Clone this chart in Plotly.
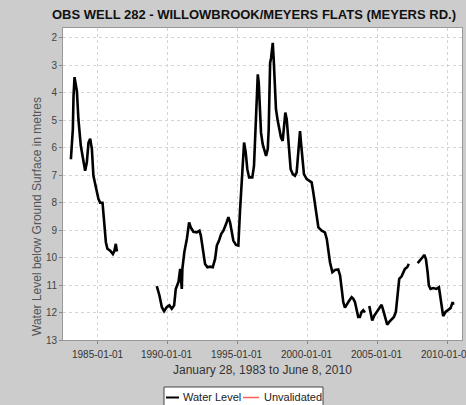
import pandas as pd
import plotly.graph_objects as go

# Observation record: decimal year and depth to water (m below ground).
# None entries mark gaps in the record.
years = [
    1983.10, 1983.24, 1983.29, 1983.36, 1983.53, 1983.64, 1983.81, 1984.00,
    1984.12, 1984.24, 1984.36, 1984.48, 1984.60, 1984.71, 1984.89, 1985.07,
    1985.19, 1985.36, 1985.48, 1985.60, 1985.71, 1985.91, 1986.10, 1986.21,
    1986.31, 1986.39,
    None,
    1989.24, 1989.43, 1989.60, 1989.76, 1989.96, 1990.14, 1990.31, 1990.48,
    1990.60, 1990.79, 1990.91, 1991.03, 1991.07, 1991.21, 1991.39, 1991.55,
    1991.67, 1991.86, 1992.10, 1992.29, 1992.39, 1992.53, 1992.69, 1992.86,
    1993.05, 1993.24, 1993.41, 1993.53, 1993.69, 1993.84, 1994.00, 1994.19,
    1994.36, 1994.48, 1994.60, 1994.71, 1994.90, 1995.07, 1995.19, 1995.31,
    1995.39, 1995.48, 1995.60, 1995.71, 1995.84, 1996.07, 1996.19, 1996.26,
    1996.34, 1996.39, 1996.46, 1996.53, 1996.62, 1996.69, 1996.81, 1996.93,
    1997.05, 1997.17, 1997.24, 1997.29, 1997.34, 1997.41, 1997.48, 1997.53,
    1997.60, 1997.67, 1997.76, 1997.89, 1998.00, 1998.12, 1998.24, 1998.34,
    1998.43, 1998.53, 1998.62, 1998.71, 1998.81, 1998.96, 1999.12, 1999.24,
    1999.36, 1999.48, 1999.55, 1999.67, 1999.76, 1999.96, 2000.14, 2000.31,
    2000.43, 2000.55, 2000.67, 2000.79, 2001.03, 2001.26, 2001.39, 2001.50,
    2001.62, 2001.79, 2001.98, 2002.21, 2002.34, 2002.46, 2002.57, 2002.69,
    2002.86, 2003.00, 2003.17, 2003.29, 2003.41, 2003.53, 2003.64, 2003.76,
    2003.88, 2004.00, 2004.12,
    None,
    2004.43, 2004.53, 2004.64, 2004.79, 2004.96, 2005.14, 2005.31, 2005.43,
    2005.55, 2005.71, 2005.86, 2006.03, 2006.19, 2006.33, 2006.43, 2006.50,
    2006.57, 2006.74, 2006.86, 2006.98, 2007.14, 2007.26,
    None,
    2007.89, 2008.06, 2008.24, 2008.36, 2008.48, 2008.60, 2008.69, 2008.81,
    2009.00, 2009.24, 2009.41, 2009.53, 2009.64, 2009.71, 2009.88, 2010.07,
    2010.24, 2010.39, 2010.44,
]
water_level = [
    6.42, 5.33, 4.12, 3.43, 3.94, 4.97, 5.93, 6.54,
    6.84, 6.54, 5.81, 5.67, 6.05, 7.02, 7.50, 7.87,
    8.00, 8.00, 8.72, 9.44, 9.68, 9.75, 9.87, 9.75,
    9.50, 9.78,
    None,
    11.04, 11.38, 11.80, 11.95, 11.80, 11.74, 11.86, 11.74,
    11.14, 10.89, 10.41, 11.14, 10.41, 9.80, 9.32, 8.72,
    8.90, 9.06, 9.08, 9.02, 9.20, 9.68, 10.23, 10.35,
    10.33, 10.35, 10.05, 9.56, 9.38, 9.14, 9.02, 8.78,
    8.53, 8.72, 9.08, 9.38, 9.54, 9.56, 8.29, 7.14,
    6.54, 5.81, 6.17, 6.78, 7.08, 7.08, 6.66, 5.69,
    4.72, 3.88, 3.33, 3.63, 4.48, 5.45, 5.87, 6.12,
    6.30, 6.05, 5.33, 4.12, 2.91, 2.73, 2.42, 2.18,
    2.79, 3.76, 4.60, 5.03, 5.33, 5.63, 5.75, 5.21,
    4.72, 4.97, 5.57, 6.30, 6.78, 6.96, 7.02, 6.90,
    6.17, 5.39, 5.81, 6.54, 6.96, 7.14, 7.20, 7.26,
    7.63, 8.11, 8.60, 8.90, 9.02, 9.08, 9.32, 9.68,
    10.17, 10.53, 10.45, 10.43, 10.65, 11.14, 11.62, 11.82,
    11.65, 11.56, 11.44, 11.50, 11.62, 11.86, 12.16, 12.16,
    11.98, 11.92, 12.00,
    None,
    11.76, 11.98, 12.29, 12.11, 11.98, 11.86, 11.72, 11.92,
    12.16, 12.44, 12.34, 12.25, 12.16, 11.98, 11.50, 11.02,
    10.77, 10.68, 10.53, 10.41, 10.35, 10.23,
    None,
    10.20, 10.11, 9.99, 9.90, 10.05, 10.53, 11.02, 11.14,
    11.11, 11.14, 11.08, 11.50, 11.98, 12.13, 11.98, 11.90,
    11.84, 11.62, 11.72,
]

x_ticks = ["1985-01-01", "1990-01-01", "1995-01-01", "2000-01-01",
           "2005-01-01", "2010-01-01"]
y_ticks = list(range(2, 14))

title_text = "OBS WELL 282 - WILLOWBROOK/MEYERS FLATS (MEYERS RD.)"
x_title = "January 28, 1983 to June 8, 2010"
y_title = "Water Level below Ground Surface in metres"
series_names = ["Water Level", "Unvalidated"]
series_colors = ["#000000", "#ff5c5c"]


def to_date(y):
    if y is None:
        return None
    yr = int(y)
    start = pd.Timestamp(year=yr, month=1, day=1)
    end = pd.Timestamp(year=yr + 1, month=1, day=1)
    return (start + (end - start) * (y - yr)).strftime("%Y-%m-%d")


dates = [to_date(y) for y in years]

W, H = 466, 405
L, R, T, B = 63, 4, 28, 65
ph = H - T - B
pw = W - L - R


def px(x):
    return (x - L) / pw


def py(y):
    return (H - B - y) / ph


fig = go.Figure()
fig.add_trace(go.Scatter(
    x=dates, y=water_level, mode="lines", name=series_names[0],
    line=dict(color=series_colors[0], width=2.6), connectgaps=False,
    showlegend=False,
))

# Boxed legend below the axis title
shapes = [
    dict(type="rect", xref="paper", yref="paper",
         x0=px(164), x1=px(323), y0=py(387), y1=py(412),
         fillcolor="#ffffff", line=dict(color="#444444", width=1)),
    dict(type="line", xref="paper", yref="paper",
         x0=px(166), x1=px(179), y0=py(397.5), y1=py(397.5),
         line=dict(color=series_colors[0], width=2)),
    dict(type="line", xref="paper", yref="paper",
         x0=px(243), x1=px(259), y0=py(397.5), y1=py(397.5),
         line=dict(color=series_colors[1], width=1.5)),
]

# Tick labels drawn as annotations so the last one may run off the page edge
tick_labels = [
    dict(text=t, xref="x", yref="paper", x=t, y=py(347),
         xanchor="center", yanchor="top", showarrow=False,
         font=dict(size=10, color="#333333"))
    for t in x_ticks
]

annotations = tick_labels + [
    dict(text=y_title, textangle=-90, xref="paper", yref="paper",
         x=px(37), y=py(217), xanchor="center", yanchor="middle",
         showarrow=False, font=dict(size=12, color="#555555")),
    dict(text=series_names[0], xref="paper", yref="paper",
         x=px(181), y=py(397), xanchor="left", yanchor="middle",
         showarrow=False, font=dict(size=11, color="#222222")),
    dict(text=series_names[1], xref="paper", yref="paper",
         x=px(262), y=py(397), xanchor="left", yanchor="middle",
         showarrow=False, font=dict(size=11, color="#222222")),
]

fig.update_layout(
    width=W, height=H,
    margin=dict(l=L, r=R, t=T, b=B),
    paper_bgcolor="#cccccc",
    plot_bgcolor="#ffffff",
    font=dict(family="Liberation Sans, Arial, sans-serif", color="#333333"),
    title=dict(text=f"<b>{title_text}</b>", x=254 / W, xanchor="center",
               y=1 - 14 / H, yanchor="middle",
               font=dict(size=13, color="#111111")),
    showlegend=False,
    xaxis=dict(
        type="date",
        range=["1982-07-15", "2011-01-22"],
        tickvals=x_ticks, showticklabels=False,
        ticks="outside", ticklen=3, tickcolor="#888888",
        showgrid=True, gridcolor="#d4d4d4", griddash="dot", gridwidth=1,
        showline=True, linecolor="#999999", mirror=True,
        zeroline=False,
    ),
    yaxis=dict(
        range=[13, 1.64],
        tickvals=y_ticks,
        ticks="outside", ticklen=3, tickcolor="#888888",
        tickfont=dict(size=10, color="#444444"),
        showgrid=True, gridcolor="#d4d4d4", griddash="dot", gridwidth=1,
        showline=True, linecolor="#999999", mirror=True,
        zeroline=False,
    ),
    shapes=shapes,
    annotations=annotations + [
        dict(text=x_title, xref="paper", yref="paper",
             x=px(262), y=py(370), xanchor="center", yanchor="middle",
             showarrow=False, font=dict(size=12, color="#333333")),
    ],
)

fig.write_html("out.html")
